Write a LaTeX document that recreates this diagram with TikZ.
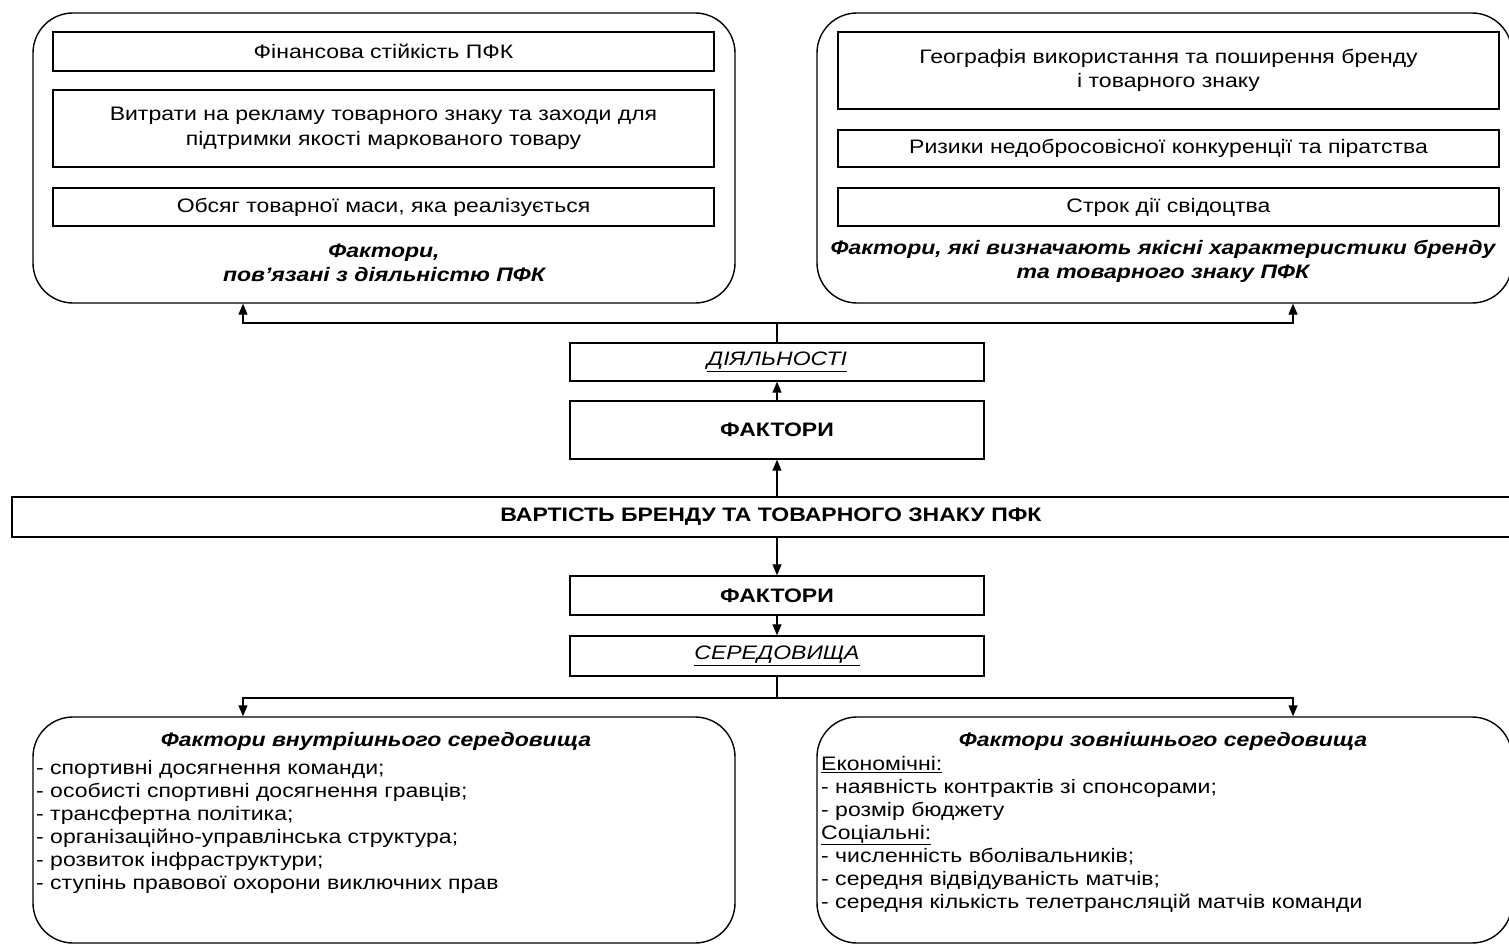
\documentclass[tikz,border=0pt]{standalone}
\usepackage{fontspec}
\setmainfont{Liberation Sans}[FakeStretch=1.18]
\usetikzlibrary{arrows.meta}
\tikzset{
  every node/.style={font=\fontsize{19.5}{24.5}\selectfont},
  rbox/.style={draw, line width=1.4pt, rounded corners=40pt, inner sep=0pt},
  ibox/.style={draw, line width=1.4pt, inner sep=0pt, align=center},
  conn/.style={line width=1.3pt},
  arr/.style={line width=1.3pt, -{Triangle[length=11pt,width=9pt]}},
  ttl/.style={font=\fontsize{19.5}{24}\selectfont\bfseries\itshape, align=center, inner sep=0pt},
  lst/.style={font=\fontsize{19.5}{23}\selectfont, align=left, inner sep=0pt, anchor=north west},
}
\begin{document}
\begin{tikzpicture}[x=1pt,y=-1pt]
\useasboundingbox (0,0) rectangle (1509,944);
\clip (0,0) rectangle (1509,944);
% top-left group
\node[rbox, minimum width=702, minimum height=290] (tl) at (384,158) {};
\node[ibox, minimum width=661, minimum height=39] (tl1) at (383.5,51.5) {Фінансова стійкість ПФК};
\node[ibox, minimum width=661, minimum height=77] (tl2) at (383.5,128.5) {Витрати на рекламу товарного знаку та заходи для\\підтримки якості маркованого товару};
\node[ibox, minimum width=661, minimum height=38] (tl3) at (383.5,207) {Обсяг товарної маси, яка реалізується};
\node[ttl] (tlt) at (384,263) {Фактори,\\пов’язані з діяльністю ПФК};
% top-right group
\node[rbox, minimum width=695, minimum height=290] (tr) at (1164.5,158) {};
\node[ibox, minimum width=661, minimum height=77] (tr1) at (1168.5,70.5) {Географія використання та поширення бренду\\і товарного знаку};
\node[ibox, minimum width=661, minimum height=37] (tr2) at (1168.5,148.5) {Ризики недобросовісної конкуренції та піратства};
\node[ibox, minimum width=661, minimum height=38] (tr3) at (1168.5,207) {Строк дії свідоцтва};
\node[ttl] (trt) at (1163,261) {Фактори, які визначають якісні характеристики бренду\\та товарного знаку ПФК};
% middle column
\node[ibox, minimum width=414, minimum height=38] (dial) at (777,362) {\itshape\underline{ДІЯЛЬНОСТІ}};
\node[ibox, minimum width=414, minimum height=58] (fak1) at (777,430) {\bfseries ФАКТОРИ};
\node[ibox, minimum width=1518, minimum height=40] (vart) at (771,517) {\bfseries ВАРТІСТЬ БРЕНДУ ТА ТОВАРНОГО ЗНАКУ ПФК};
\node[ibox, minimum width=414, minimum height=39] (fak2) at (777,595.5) {\bfseries ФАКТОРИ};
\node[ibox, minimum width=414, minimum height=40] (ser) at (777,656) {\itshape\underline{СЕРЕДОВИЩА}};
% bottom boxes
\node[rbox, minimum width=702, minimum height=226] (bl) at (384,830) {};
\node[rbox, minimum width=695, minimum height=226] (br) at (1164.5,830) {};
\node[ttl] (blt) at (376,741) {Фактори внутрішнього середовища};
\node[lst] (bll) at (36,760) {- спортивні досягнення команди;\\- особисті спортивні досягнення гравців;\\- трансфертна політика;\\- організаційно-управлінська структура;\\- розвиток інфраструктури;\\- ступінь правової охорони виключних прав};
\node[ttl] (brt) at (1163,741) {Фактори зовнішнього середовища};
\node[lst] (brl) at (821,756) {\underline{Економічні:}\\- наявність контрактів зі спонсорами;\\- розмір бюджету\\\underline{Соціальні:}\\- численність вболівальників;\\- середня відвідуваність матчів;\\- середня кількість телетрансляцій матчів команди};
% connectors top
\coordinate (jt) at (777,323);
\draw[conn] (dial.north) -- (jt);
\draw[arr] (jt) -| (tl.south -| 243,0);
\draw[arr] (jt) -| (tr.south -| 1293,0);
\draw[arr] (fak1.north) -- (dial.south);
\draw[arr] (vart.north -| fak1.south) -- (fak1.south);
\draw[arr] (vart.south -| fak2.north) -- (fak2.north);
\draw[arr] (fak2.south) -- (ser.north);
\coordinate (jb) at (777,698);
\draw[conn] (ser.south) -- (jb);
\draw[arr] (jb) -| (bl.north -| 243,0);
\draw[arr] (jb) -| (br.north -| 1293,0);
\end{tikzpicture}
\end{document}
